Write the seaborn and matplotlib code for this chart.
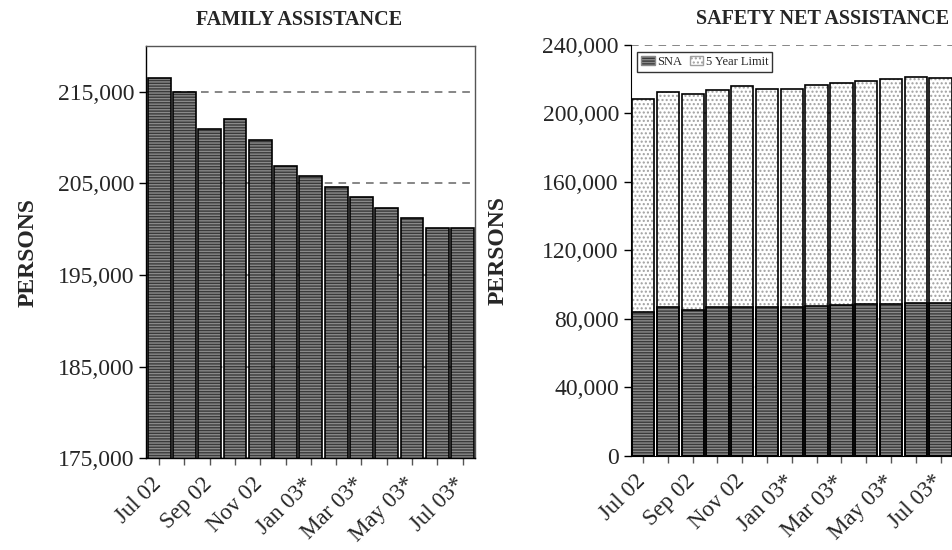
import numpy as np
import pandas as pd
import matplotlib
matplotlib.use("Agg")
import matplotlib.pyplot as plt
import matplotlib.transforms as mtransforms
from matplotlib.patches import Patch, Rectangle
from matplotlib.ticker import FuncFormatter
import seaborn as sns

# data
months = ["Jul 02", "Aug 02", "Sep 02", "Oct 02", "Nov 02", "Dec 02", "Jan 03*",
          "Feb 03*", "Mar 03*", "Apr 03*", "May 03*", "Jun 03*", "Jul 03*"]
family = [216460, 214970, 210900, 211990, 209730, 206890, 205800,
          204630, 203480, 202310, 201220, 200130, 200100]
sna = [83980, 86720, 85320, 86900, 86900, 86720, 86720,
       87480, 88070, 88480, 88830, 89060, 89060]
five_year = [124300, 125650, 125880, 126990, 128980, 127750, 127750,
             129160, 129740, 130320, 131140, 132080, 131940]

df_fa = pd.DataFrame({"Month": months, "Persons": family})
df_sn = pd.DataFrame({"Month": months, "SNA": sna, "Limit": five_year})
df_sn["Total"] = df_sn["SNA"] + df_sn["Limit"]

sns.set_style("white")
plt.rcParams["font.family"] = ["Liberation Serif", "DejaVu Serif"]
plt.rcParams["hatch.linewidth"] = 1.0

DARK = "#3a3a3a"
STRIPE = "#8a8a8a"
DOTS = "#a0a0a0"


def style_bars(ax, patches, face, hatch, hcolor):
    # hatch drawn in grey, then a black outline on top of each bar
    for p in patches:
        p.set_facecolor(face)
        p.set_hatch(hatch)
        p.set_edgecolor(hcolor)
        p.set_linewidth(0)
        ax.add_patch(Rectangle(p.get_xy(), p.get_width(), p.get_height(),
                               fill=False, edgecolor="black", linewidth=1.2, zorder=p.get_zorder() + 0.1))


def fmt(ax, pad):
    ax.yaxis.set_major_formatter(FuncFormatter(lambda v, pos: f"{int(v):,}"))
    ax.set_xticks(range(len(months)))
    ax.set_xticklabels([m if i % 2 == 0 else "" for i, m in enumerate(months)],
                       rotation=45, ha="right", rotation_mode="anchor", fontsize=16.5)
    ax.tick_params(axis="y", labelsize=17, length=5, width=1, direction="out", left=True, color="black")
    ax.tick_params(axis="x", length=5, width=1, direction="out", bottom=True, color="#555555", pad=6)
    # nudge rotated labels a little to the left, like the original
    shift = mtransforms.ScaledTranslation(-6 / 72, 0, ax.figure.dpi_scale_trans)
    for lab in ax.get_xticklabels():
        lab.set_transform(lab.get_transform() + shift)
    ax.set_xlim(-0.5, 12.5)
    ax.yaxis.grid(True, linestyle=(0, (5, 4)), color="#666666", linewidth=1.1)
    ax.xaxis.grid(False)
    ax.set_axisbelow(True)
    ax.set_xlabel("")
    ax.set_ylabel("PERSONS", fontsize=17, fontweight="bold", labelpad=pad)


fig = plt.figure(figsize=(9.53, 5.5), dpi=100)
ax1 = fig.add_axes([0.1537, 0.1667, 0.345, 0.7496])
ax2 = fig.add_axes([0.6618, 0.1715, 0.3382, 0.7467])

# FAMILY ASSISTANCE
sns.barplot(data=df_fa, x="Month", y="Persons", ax=ax1, width=0.9, color=DARK)
style_bars(ax1, list(ax1.patches), DARK, "------", STRIPE)
ax1.set_ylim(175000, 220000)
ax1.set_yticks([175000, 185000, 195000, 205000, 215000])
fmt(ax1, 14)
ax1.set_title("FAMILY ASSISTANCE", fontsize=14.5, fontweight="bold", x=0.465, pad=15)
for s in ["top", "right"]:
    ax1.spines[s].set_color("#555555")
for s in ["left", "bottom"]:
    ax1.spines[s].set_color("black")
for s in ax1.spines.values():
    s.set_linewidth(1)

# SAFETY NET ASSISTANCE
sns.barplot(data=df_sn, x="Month", y="Total", ax=ax2, width=0.9, color="white")
tot_patches = list(ax2.patches)
sns.barplot(data=df_sn, x="Month", y="SNA", ax=ax2, width=0.9, color=DARK)
sna_patches = [p for p in ax2.patches if p not in tot_patches]
style_bars(ax2, tot_patches, "white", "....", DOTS)
style_bars(ax2, sna_patches, DARK, "------", STRIPE)
ax2.set_ylim(0, 240000)
ax2.set_yticks(range(0, 240001, 40000))
fmt(ax2, 24)
ax2.set_title("SAFETY NET ASSISTANCE", fontsize=14.5, fontweight="bold", x=0.594, pad=15)
ax2.spines["top"].set_visible(False)
ax2.spines["right"].set_visible(False)
ax2.spines["left"].set_color("black")
ax2.spines["bottom"].set_color("black")

handles = [Patch(facecolor=DARK, edgecolor=STRIPE, hatch="------", label="SNA"),
           Patch(facecolor="white", edgecolor=DOTS, hatch="....", label="5 Year Limit")]
leg = ax2.legend(handles=handles, loc="upper left", ncol=2, fontsize=9, frameon=True,
                 fancybox=False, edgecolor="black", handlelength=1.1, handleheight=0.8,
                 handletextpad=0.2, columnspacing=0.6, borderpad=0.3,
                 bbox_to_anchor=(0.02, 0.983), borderaxespad=0)
leg.get_frame().set_linewidth(1)

fig.savefig("out.png", dpi=100)
